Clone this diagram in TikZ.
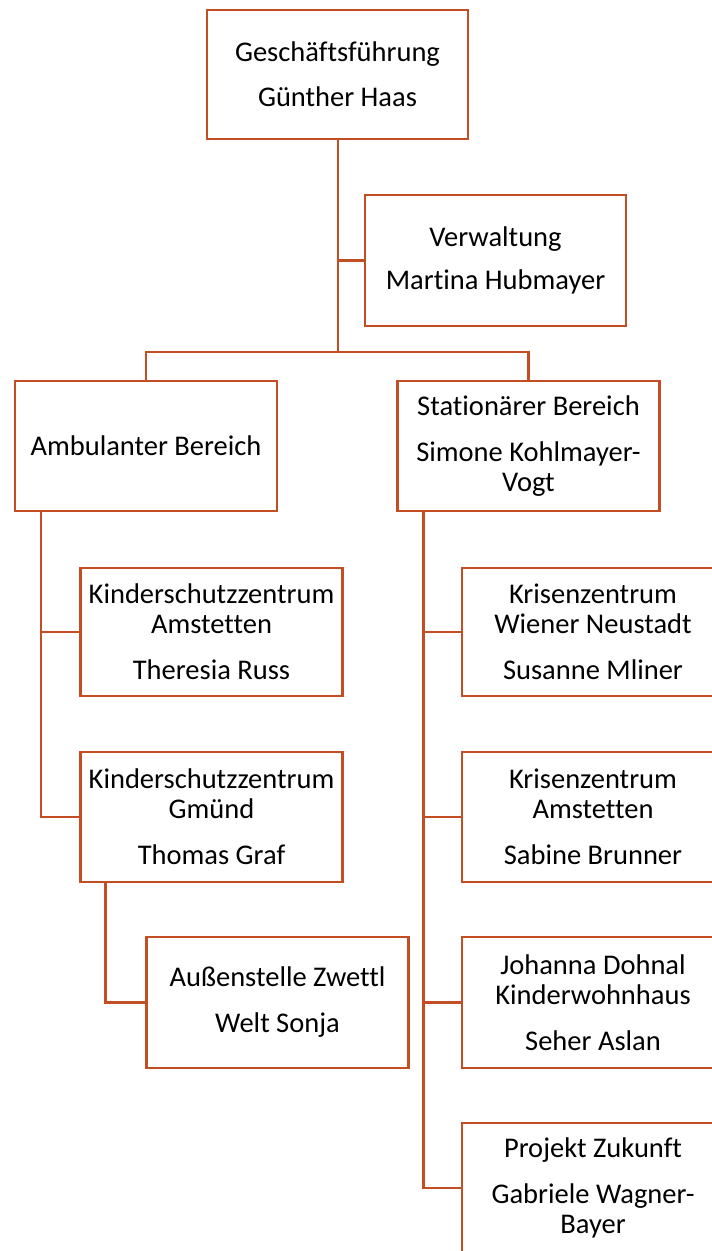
\documentclass[tikz,border=0pt]{standalone}
\usepackage{fontspec}
\setmainfont[Ligatures=CommonOff]{Carlito}
\usepackage{tikz}
\definecolor{orgline}{RGB}{196,78,36}
\tikzset{
	unit/.style={draw=orgline, line width=2.5pt, minimum width=262pt, minimum height=130pt, inner sep=0pt, align=center, font=\fontsize{28.5}{30}\selectfont},
	link/.style={draw=orgline, line width=2.5pt}
}

\begin{document}
\begin{tikzpicture}[x=1pt, y=-1pt]
		\useasboundingbox (0,0) rectangle (712,1251);
		\clip (0,0) rectangle (712,1251);
		\node[unit, minimum width=261pt, minimum height=129pt] (gf) at (337.5,74.5) {Geschäftsführung\\[15pt]Günther Haas};
		\node[unit, minimum width=261pt, minimum height=131pt] (vw) at (495.5,260.5) {Verwaltung\\[13pt]Martina Hubmayer};
		\node[unit] (amb) at (146,446) {Ambulanter Bereich};
		\node[unit] (stat) at (528.5,446) {Stationärer Bereich\\[16pt]Simone Kohlmayer-\\Vogt};
		\node[unit, minimum height=128pt] (kza) at (211.5,632) {Kinderschutzzentrum\\Amstetten\\[16pt]Theresia Russ};
		\node[unit] (kzg) at (211.5,817) {Kinderschutzzentrum\\Gmünd\\[16pt]Thomas Graf};
		\node[unit, minimum height=131pt] (aus) at (277.5,1002.5) {Außenstelle Zwettl\\[16pt]Welt Sonja};
		\node[unit, minimum height=128pt] (kwn) at (593,632) {Krisenzentrum\\Wiener Neustadt\\[16pt]Susanne Mliner};
		\node[unit] (kam) at (593,817) {Krisenzentrum\\Amstetten\\[16pt]Sabine Brunner};
		\node[unit, minimum height=131pt] (jdk) at (593,1002.5) {Johanna Dohnal\\Kinderwohnhaus\\[16pt]Seher Aslan};
		\node[unit] (pz) at (593,1188) {Projekt Zukunft\\[16pt]Gabriele Wagner-\\Bayer};
		\coordinate (hub) at (338,352);
		\draw[link] (gf.south -| hub) -- (hub);
		\draw[link] (vw.west) -- (vw.west -| hub);
		\draw[link] (amb.north) |- (hub) -| (stat.north);
		\draw[link] ([xshift=27pt]amb.south west) |- (kza.west);
		\draw[link] ([xshift=27pt]amb.south west) |- (kzg.west);
		\draw[link] ([xshift=26pt]kzg.south west) |- (aus.west);
		\draw[link] ([xshift=27pt]stat.south west) |- (kwn.west);
		\draw[link] ([xshift=27pt]stat.south west) |- (kam.west);
		\draw[link] ([xshift=27pt]stat.south west) |- (jdk.west);
		\draw[link] ([xshift=27pt]stat.south west) |- (pz.west);
\end{tikzpicture}
\end{document}
